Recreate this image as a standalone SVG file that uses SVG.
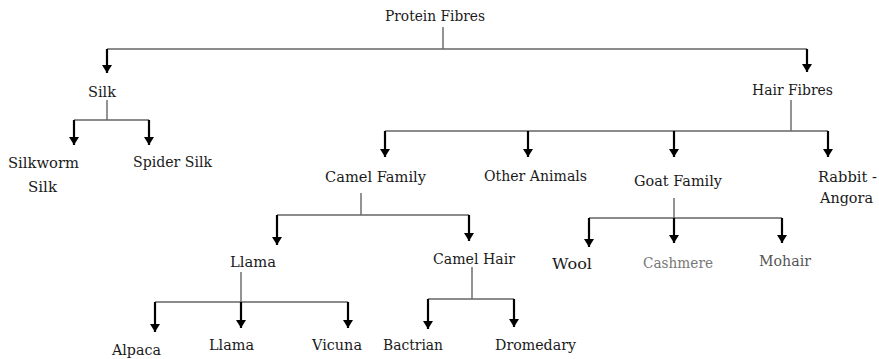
<svg xmlns="http://www.w3.org/2000/svg" width="879" height="359" viewBox="0 0 879 359">
<defs>
<marker id="ah" markerUnits="userSpaceOnUse" markerWidth="9" markerHeight="10" refX="8" refY="5" orient="auto" viewBox="0 0 9 10">
<path d="M0,0 L8,5 L0,10 Z" fill="#000"/>
</marker>
</defs>
<style>
text{font-family:"DejaVu Serif","Liberation Serif",serif;font-size:14px;fill:#1a1a1a}
.g{fill:#777}
.m{fill:#555}
.ln{stroke:#666;stroke-width:1.4;fill:none}
.ar{stroke:#000;stroke-width:2.2;fill:none}
</style>
<rect width="879" height="359" fill="#fff"/>
<g id="connectors">
<path class="ln" d="M443,27V49M107,49H807"/>
<path class="ln" d="M107,100V120M74,120H149"/>
<path class="ln" d="M791,100V131M385,131H828"/>
<path class="ln" d="M361,193V215M277,215H469"/>
<path class="ln" d="M241,272V302M155,302H348"/>
<path class="ln" d="M472,267V299M428,299H514"/>
<path class="ln" d="M674,198V218M589,218H782"/>
<g class="ar" marker-end="url(#ah)">
<path d="M107,49V73"/>
<path d="M807,49V72"/>
<path d="M74,120V145"/>
<path d="M149,120V145"/>
<path d="M385,131V157"/>
<path d="M528,131V157"/>
<path d="M674,131V157"/>
<path d="M828,131V157"/>
<path d="M277,215V245"/>
<path d="M469,215V241"/>
<path d="M155,302V332"/>
<path d="M241,302V328"/>
<path d="M348,302V328"/>
<path d="M428,299V329"/>
<path d="M514,299V327"/>
<path d="M589,218V247"/>
<path d="M674,218V243"/>
<path d="M782,218V243"/>
</g>
</g>
<g id="protein-fibres"><text x="385" y="21" textLength="100" lengthAdjust="spacingAndGlyphs">Protein Fibres</text></g>
<g id="silk"><text x="88" y="97" textLength="28" lengthAdjust="spacingAndGlyphs">Silk</text></g>
<g id="hair-fibres"><text x="752" y="95" textLength="81" lengthAdjust="spacingAndGlyphs">Hair Fibres</text></g>
<g id="silkworm-silk"><text x="8" y="168" textLength="71" lengthAdjust="spacingAndGlyphs">Silkworm</text><text x="28" y="192" textLength="29" lengthAdjust="spacingAndGlyphs">Silk</text></g>
<g id="spider-silk"><text x="133" y="167" textLength="79" lengthAdjust="spacingAndGlyphs">Spider Silk</text></g>
<g id="camel-family"><text x="325" y="182" textLength="101" lengthAdjust="spacingAndGlyphs">Camel Family</text></g>
<g id="other-animals"><text x="484" y="181" textLength="103" lengthAdjust="spacingAndGlyphs">Other Animals</text></g>
<g id="goat-family"><text x="634" y="186" textLength="88" lengthAdjust="spacingAndGlyphs">Goat Family</text></g>
<g id="rabbit-angora"><text x="818" y="182" textLength="59" lengthAdjust="spacingAndGlyphs">Rabbit -</text><text x="820" y="203" textLength="53" lengthAdjust="spacingAndGlyphs">Angora</text></g>
<g id="llama-group"><text x="230" y="267" textLength="46" lengthAdjust="spacingAndGlyphs">Llama</text></g>
<g id="camel-hair"><text x="433" y="264" textLength="82" lengthAdjust="spacingAndGlyphs">Camel Hair</text></g>
<g id="wool"><text x="552" y="269" textLength="40" lengthAdjust="spacingAndGlyphs">Wool</text></g>
<g id="cashmere"><text class="g" x="643" y="268" textLength="70" lengthAdjust="spacingAndGlyphs">Cashmere</text></g>
<g id="mohair"><text class="m" x="759" y="266" textLength="52" lengthAdjust="spacingAndGlyphs">Mohair</text></g>
<g id="alpaca"><text x="112" y="355" textLength="49" lengthAdjust="spacingAndGlyphs">Alpaca</text></g>
<g id="llama"><text x="209" y="350" textLength="45" lengthAdjust="spacingAndGlyphs">Llama</text></g>
<g id="vicuna"><text x="312" y="350" textLength="50" lengthAdjust="spacingAndGlyphs">Vicuna</text></g>
<g id="bactrian"><text x="383" y="350" textLength="60" lengthAdjust="spacingAndGlyphs">Bactrian</text></g>
<g id="dromedary"><text x="495" y="350" textLength="81" lengthAdjust="spacingAndGlyphs">Dromedary</text></g>
</svg>
